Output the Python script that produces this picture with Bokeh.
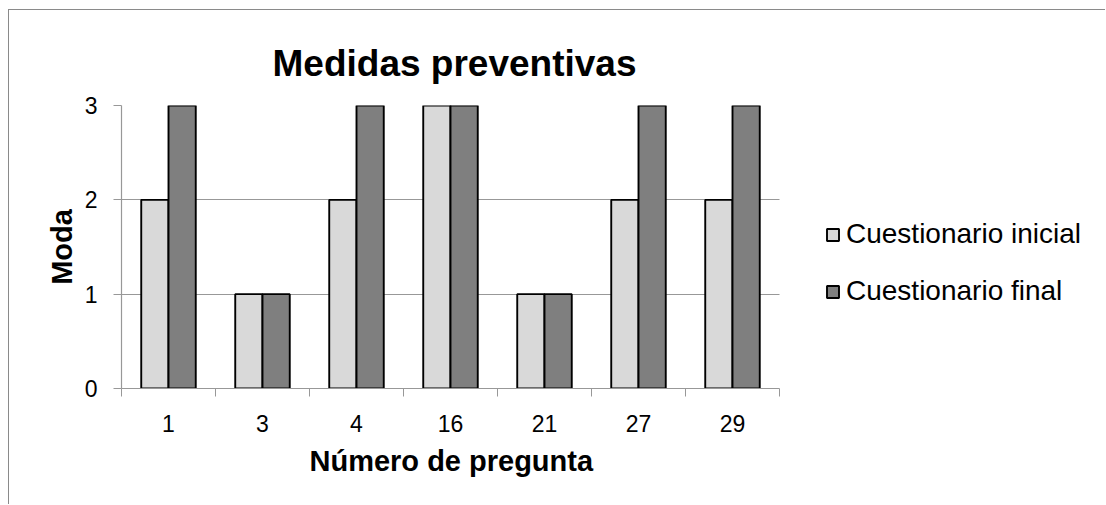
from bokeh.plotting import figure
from bokeh.models import ColumnDataSource, FixedTicker, Legend, LegendItem, Range1d, Title
from bokeh.transform import dodge
from bokeh.embed import file_html
from bokeh.resources import INLINE

preguntas = ["1", "3", "4", "16", "21", "27", "29"]
inicial = [2, 1, 2, 3, 1, 2, 2]
final = [3, 1, 3, 3, 1, 3, 3]
y_ticks = [0, 1, 2, 3]

pos = list(range(len(preguntas)))
src = ColumnDataSource(dict(x=pos, inicial=inicial, final=final))

W, H = 1097, 495
LEFT, TOP, BOTTOM = 112, 95, 117
cat_px = 94.0
x_lo = -0.5
x_hi_data = len(preguntas) - 0.5
x_hi_view = x_lo + (W - LEFT) / cat_px   # frame extends right so the legend fits inside

p = figure(width=W, height=H, output_backend="svg", toolbar_location=None,
           x_range=Range1d(x_lo, x_hi_view), y_range=Range1d(0, 3),
           min_border_left=LEFT, min_border_right=0, min_border_top=TOP, min_border_bottom=BOTTOM)
p.styles = {"margin-left": "8px", "margin-top": "9px",
            "border-left": "1px solid #8a8a8a", "border-top": "1px solid #8a8a8a"}
p.outline_line_color = None
p.background_fill_color = "white"
p.border_fill_color = "white"

p.title.text = "Medidas preventivas"
p.title.text_font = "Liberation Sans"
p.title.text_font_style = "bold"
p.title.text_font_size = "37px"
p.title.text_color = "black"
p.title.align = "left"
p.title.offset = 151
p.title.standoff = 43

grey = "#989898"
r1 = p.vbar(x=dodge("x", -0.145, range=p.x_range), top="inicial", width=0.29, source=src,
            fill_color="#d9d9d9", line_color="black", line_width=1.9)
r2 = p.vbar(x=dodge("x", 0.145, range=p.x_range), top="final", width=0.29, source=src,
            fill_color="#7f7f7f", line_color="black", line_width=1.9)

p.xgrid.visible = False
p.ygrid.ticker = FixedTicker(ticks=y_ticks)
p.ygrid.grid_line_color = grey
p.ygrid.grid_line_width = 1.2
p.ygrid.cross_bounds = (x_lo, x_hi_data)

xa = p.xaxis[0]
xa.bounds = (x_lo, x_hi_data)
xa.ticker = FixedTicker(ticks=pos, minor_ticks=[i - 0.5 for i in range(len(preguntas) + 1)])
xa.major_label_overrides = {i: s for i, s in enumerate(preguntas)}
xa.major_tick_out = 0
xa.major_tick_in = 0
xa.minor_tick_out = 8
xa.minor_tick_in = 0
xa.minor_tick_line_color = grey
xa.axis_line_color = grey
xa.axis_line_width = 1.2
xa.major_label_text_font = "Liberation Sans"
xa.major_label_text_font_size = "23px"
xa.major_label_text_color = "black"
xa.major_label_standoff = 18

# x-axis title, positioned over the category span
xlabel = Title(text="Número de pregunta", align="left", offset=188, standoff=17,
               text_font="Liberation Sans", text_font_style="bold",
               text_font_size="29px", text_color="black")
p.add_layout(xlabel, "below")

ya = p.yaxis[0]
ya.ticker = FixedTicker(ticks=y_ticks)
ya.minor_tick_line_color = None
ya.major_tick_out = 8
ya.major_tick_in = 0
ya.major_tick_line_color = grey
ya.axis_line_color = grey
ya.axis_line_width = 1.2
ya.major_label_text_font = "Liberation Sans"
ya.major_label_text_font_size = "23px"
ya.major_label_text_color = "black"
ya.major_label_standoff = 16
ya.axis_label = "Moda"
ya.axis_label_text_font = "Liberation Sans"
ya.axis_label_text_font_style = "bold"
ya.axis_label_text_font_size = "29px"
ya.axis_label_text_color = "black"
ya.axis_label_standoff = 4

legend = Legend(items=[LegendItem(label="Cuestionario inicial", renderers=[r1]),
                       LegendItem(label="Cuestionario final", renderers=[r2])],
                location=(704, 81), orientation="vertical",
                glyph_width=15, glyph_height=15, label_standoff=6, spacing=25,
                padding=0, margin=0, border_line_color=None, background_fill_alpha=0,
                label_text_font="Liberation Sans", label_text_font_size="28px",
                label_text_color="black")
p.add_layout(legend, "center")

open("out.html", "w").write(file_html(p, INLINE))
